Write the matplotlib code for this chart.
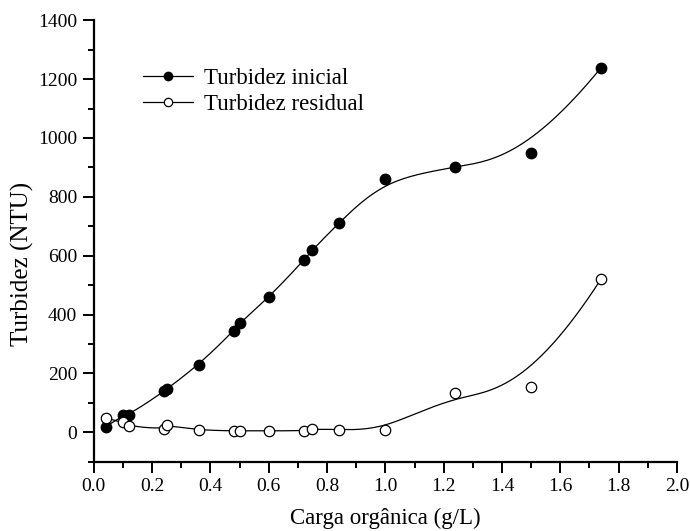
import numpy as np
import matplotlib
matplotlib.use("Agg")
import matplotlib.pyplot as plt
from matplotlib.ticker import MultipleLocator, FormatStrFormatter

plt.rcParams['font.family'] = ['Liberation Serif', 'DejaVu Serif']

# carga orgânica (g/L)
carga = [0.04, 0.10, 0.12, 0.24, 0.25, 0.36, 0.48, 0.50, 0.60,
         0.72, 0.75, 0.84, 1.00, 1.24, 1.50, 1.74]
turb_inicial = [18, 58, 58, 139, 147, 229, 345, 371, 458,
                584, 620, 711, 861, 900, 948, 1239]
turb_residual = [49, 34, 20, 11, 25, 7, 5, 5, 5,
                 5, 11, 9, 8, 134, 153, 521]


def bspline(xs, ys, num=400):
    # clamped uniform cubic B-spline using the data points as control points
    P = np.column_stack([xs, ys]).astype(float)
    n = len(P)
    k = 3
    knots = np.concatenate([np.zeros(k), np.arange(n - k + 1), np.full(k, n - k)])
    t = np.linspace(0, n - k, num)
    out = []
    for tt in t:
        i = np.searchsorted(knots, tt, side='right') - 1
        i = min(max(i, k), n - 1)
        d = [P[j + i - k].copy() for j in range(k + 1)]
        for r in range(1, k + 1):
            for j in range(k, r - 1, -1):
                a = (tt - knots[j + i - k]) / (knots[j + 1 + i - r] - knots[j + i - k])
                d[j] = (1 - a) * d[j - 1] + a * d[j]
        out.append(d[k])
    out = np.array(out)
    return out[:, 0], out[:, 1]


fig = plt.figure(figsize=(6.9, 5.31), dpi=100)
ax = fig.add_axes([0.136, 0.1305, 0.845, 0.8313])

cx, cy = bspline(carga, turb_inicial)
ax.plot(cx, cy, color='black', lw=0.9, zorder=2)
cx, cy = bspline(carga, turb_residual)
ax.plot(cx, cy, color='black', lw=0.9, zorder=2)

ax.plot(carga, turb_inicial, 'o', ms=7.5, mfc='black', mec='black', zorder=3)
ax.plot(carga, turb_residual, 'o', ms=7.5, mfc='white', mec='black', mew=0.9, zorder=3)

# legend entries drawn as line + marker handles
h1, = ax.plot([], [], '-o', color='black', lw=0.9, ms=6, mfc='black')
h2, = ax.plot([], [], '-o', color='black', lw=0.9, ms=6, mfc='white', mew=0.9)
ax.legend([h1, h2], ['Turbidez inicial', 'Turbidez residual'],
          loc='upper left', bbox_to_anchor=(0.084, 0.891), frameon=False,
          fontsize=16.5, handlelength=2.2, handletextpad=0.45, labelspacing=0.2,
          borderpad=0, borderaxespad=0)

ax.set_xlim(0, 2.0)
ax.set_ylim(-100, 1400)
ax.xaxis.set_major_locator(MultipleLocator(0.2))
ax.xaxis.set_minor_locator(MultipleLocator(0.1))
ax.yaxis.set_major_locator(MultipleLocator(200))
ax.yaxis.set_minor_locator(MultipleLocator(100))
ax.xaxis.set_major_formatter(FormatStrFormatter('%.1f'))

for s in ['top', 'right']:
    ax.spines[s].set_visible(False)
for s in ['left', 'bottom']:
    ax.spines[s].set_linewidth(1.6)

ax.tick_params(which='major', direction='out', length=8, width=1.4,
               labelsize=14, pad=4)
ax.tick_params(which='minor', direction='out', length=4.5, width=1.4)

ax.set_xlabel('Carga orgânica (g/L)', fontsize=16.5)
ax.set_ylabel('Turbidez (NTU)', fontsize=18)
ax.xaxis.set_label_coords(0.5, -0.105)
ax.yaxis.set_label_coords(-0.103, 0.447)

fig.savefig('out.png', dpi=100)
